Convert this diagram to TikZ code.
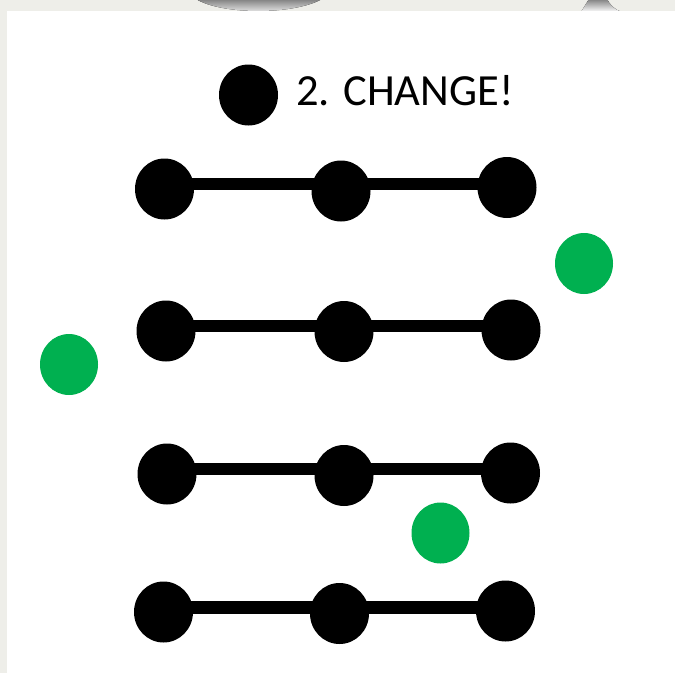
\documentclass[tikz,border=0pt]{standalone}
\usepackage{fontspec}
\setmainfont{Carlito}
\usetikzlibrary{shapes.geometric}
\definecolor{frame}{RGB}{238,238,233}
\definecolor{shade}{RGB}{179,179,179}
\definecolor{dotgreen}{RGB}{0,176,80}
\tikzset{
  dot/.style={ellipse, fill=black, minimum width=59pt, minimum height=61pt, inner sep=0pt},
  gdot/.style={ellipse, fill=dotgreen, minimum width=58pt, minimum height=61pt, inner sep=0pt},
  bar/.style={line width=12.5pt, black}
}
\begin{document}
\begin{tikzpicture}[x=1pt,y=-1pt]
\useasboundingbox (0,0) rectangle (675,673);
\fill[frame] (0,0) rectangle (675,673);
\fill[shade] (196,-1) .. controls (222,15) and (294,15) .. (322,-1) -- cycle;
\fill[shade] (581,12) -- (589,-1) -- (607,-1) .. controls (610,5) and (615,10) .. (622,12) -- cycle;
\fill[white] (7,11) rectangle (675,673);

\node[dot] (t) at (248.5,95) {};
\node[anchor=base west, font=\fontsize{44.5}{50}\selectfont, inner sep=0pt] (title) at (296,105) {2. CHANGE!};

\node[dot] (a1) at (164.5,189) {};
\node[dot] (b1) at (341,191) {};
\node[dot] (c1) at (507,187.5) {};
\node[dot] (a2) at (166,331) {};
\node[dot] (b2) at (344,331.5) {};
\node[dot] (c2) at (511,330) {};
\node[dot] (a3) at (167,474) {};
\node[dot] (b3) at (344,475.5) {};
\node[dot] (c3) at (510.5,473) {};
\node[dot] (a4) at (163.5,612) {};
\node[dot] (b4) at (339.5,613.5) {};
\node[dot] (c4) at (505.5,611) {};

\draw[bar] ([yshift=5pt]a1.center) -- ([yshift=5pt]a1.center -| b1.center) -- ([yshift=5pt]a1.center -| c1.center);
\draw[bar] ([yshift=5pt]a2.center) -- ([yshift=5pt]a2.center -| b2.center) -- ([yshift=5pt]a2.center -| c2.center);
\draw[bar] ([yshift=5pt]a3.center) -- ([yshift=5pt]a3.center -| b3.center) -- ([yshift=5pt]a3.center -| c3.center);
\draw[bar] ([yshift=4.5pt]a4.center) -- ([yshift=4.5pt]a4.center -| b4.center) -- ([yshift=4.5pt]a4.center -| c4.center);

\node[gdot] (g1) at (584,263.5) {};
\node[gdot] (g2) at (69,364.5) {};
\node[gdot] (g3) at (440.5,533) {};
\end{tikzpicture}
\end{document}
